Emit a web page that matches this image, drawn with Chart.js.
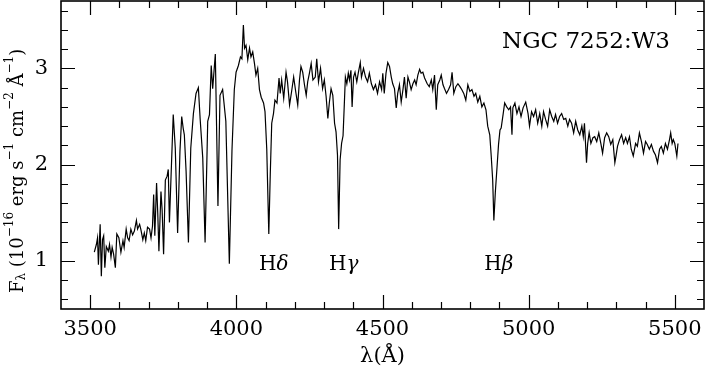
<!DOCTYPE html>
<html>
<head>
<meta charset="utf-8">
<script src="https://cdn.jsdelivr.net/npm/chart.js@4.4.1/dist/chart.umd.min.js"></script>
<style>
  html, body { margin: 0; padding: 0; background: #fff; }
  #wrap { width: 706px; height: 371px; }
</style>
</head>
<body>
<div id="wrap"><canvas id="spectrum"></canvas></div>
<script>
// spectrum: wavelength in Angstrom, flux in 1e-16 erg/s/cm2/A
const wavelength = [
  3514, 3521, 3525, 3528, 3534, 3538, 3542, 3546, 3550, 3555, 3562, 3566, 3571, 3575, 3580, 3586, 3591, 3598,
  3605, 3612, 3616, 3623, 3628, 3633, 3639, 3645, 3651, 3658, 3662, 3669, 3673, 3680, 3685, 3690, 3696,
  3703, 3708, 3713, 3717, 3721, 3727, 3731, 3735, 3742, 3746, 3751, 3757, 3763, 3767, 3771,
  3784, 3791, 3799, 3807, 3813, 3818, 3822, 3828, 3836, 3844, 3853, 3862, 3870, 3876, 3885, 3893,
  3902, 3908, 3914, 3919, 3928, 3937, 3944, 3953, 3964, 3976, 3985, 3993, 3999,
  4007, 4014, 4019, 4024, 4028, 4033, 4039, 4045, 4050, 4056, 4062, 4067, 4073, 4079, 4085, 4093, 4098,
  4104, 4111, 4116, 4121, 4127, 4132, 4139, 4146, 4150, 4155, 4162, 4170, 4175, 4182, 4189, 4196,
  4203, 4210, 4216, 4221, 4227, 4233, 4239, 4244, 4250, 4256, 4262, 4270, 4275, 4281, 4288, 4295,
  4301, 4307, 4313, 4318, 4324, 4330, 4336, 4341, 4346, 4350, 4355, 4360, 4365, 4369, 4373, 4378,
  4383, 4387, 4392, 4396, 4401, 4406, 4412, 4417, 4424, 4428, 4435, 4442, 4449, 4455, 4462, 4469,
  4476, 4483, 4490, 4497, 4501, 4506, 4512, 4518, 4524, 4530, 4535, 4541, 4547, 4552, 4558, 4564,
  4570, 4575, 4581, 4587, 4592, 4598, 4604, 4610, 4615, 4621, 4627, 4632, 4638, 4644, 4653, 4660,
  4667, 4672, 4678, 4684, 4689, 4696, 4701, 4707, 4712, 4719, 4726, 4733, 4738, 4744, 4751, 4758,
  4765, 4771, 4778, 4785, 4792, 4799, 4806, 4813, 4819, 4826, 4833, 4840, 4847, 4854, 4860, 4867,
  4872, 4877, 4881, 4886, 4892, 4897, 4902, 4906, 4913, 4918, 4925, 4932, 4938, 4943, 4946, 4953,
  4960, 4967, 4974, 4981, 4990, 4998, 5003, 5010, 5017, 5024, 5031, 5038, 5045, 5051, 5058, 5065,
  5072, 5079, 5086, 5092, 5099, 5106, 5113, 5120, 5127, 5134, 5140, 5147, 5154, 5161, 5168, 5175,
  5182, 5187, 5191, 5198, 5202, 5207, 5213, 5220, 5226, 5233, 5240, 5247, 5253, 5260, 5267, 5274,
  5281, 5288, 5295, 5299, 5304, 5311, 5318, 5325, 5332, 5338, 5345, 5351, 5358, 5366, 5372, 5379,
  5386, 5393, 5400, 5406, 5413, 5420, 5427, 5434, 5441, 5448, 5454, 5461, 5468, 5475, 5482, 5486,
  5491, 5495, 5500, 5507, 5511
];
const flux = [
  1.09, 1.17, 1.24, 0.96, 1.38, 0.84, 1.22, 1.26, 0.93, 1.15, 1.10, 1.17, 1.04, 1.14, 1.07, 0.93, 1.28, 1.24,
  1.09, 1.21, 1.14, 1.33, 1.24, 1.21, 1.33, 1.27, 1.31, 1.42, 1.33, 1.38, 1.33, 1.22, 1.29, 1.21, 1.35,
  1.33, 1.24, 1.36, 1.69, 1.26, 1.81, 1.50, 1.10, 1.72, 1.53, 1.07, 1.84, 1.88, 1.95, 1.40,
  2.52, 2.17, 1.29, 2.14, 2.50, 2.38, 2.31, 1.93, 1.19, 2.17, 2.53, 2.74, 2.80, 2.48, 2.07, 1.19,
  2.45, 2.52, 3.03, 2.79, 3.15, 1.57, 2.72, 2.78, 2.45, 0.97, 2.15, 2.78, 2.96,
  3.03, 3.12, 3.10, 3.45, 3.21, 3.24, 3.09, 3.21, 3.12, 3.17, 3.05, 2.93, 3.00, 2.78, 2.70, 2.64, 2.55,
  2.16, 1.28, 1.90, 2.43, 2.53, 2.67, 2.64, 2.90, 2.74, 2.88, 2.69, 2.96, 2.86, 2.62, 2.76, 2.91,
  2.76, 2.62, 2.88, 3.02, 2.96, 2.83, 2.72, 2.86, 2.95, 3.05, 2.88, 2.91, 3.10, 2.86, 3.00, 2.79,
  2.88, 2.71, 2.48, 2.64, 2.79, 2.72, 2.43, 2.34, 2.10, 1.33, 2.05, 2.22, 2.30, 2.60, 2.91, 2.84,
  2.95, 2.88, 2.98, 2.60, 2.91, 2.96, 2.86, 2.95, 3.06, 2.91, 3.00, 2.91, 2.86, 2.95, 2.84, 2.78,
  2.83, 2.74, 2.86, 2.78, 2.95, 2.74, 2.95, 3.06, 3.02, 2.91, 2.84, 2.79, 2.59, 2.74, 2.83, 2.65,
  2.78, 2.91, 2.69, 2.91, 2.86, 2.78, 2.84, 2.88, 2.83, 2.93, 2.99, 2.95, 2.96, 2.90, 2.84, 2.81,
  2.88, 2.78, 2.93, 2.57, 2.83, 2.88, 2.93, 2.83, 2.79, 2.74, 2.78, 2.83, 2.96, 2.74, 2.81, 2.84,
  2.81, 2.78, 2.74, 2.67, 2.83, 2.76, 2.78, 2.71, 2.74, 2.65, 2.71, 2.60, 2.64, 2.57, 2.40, 2.31,
  2.09, 1.84, 1.42, 1.71, 1.98, 2.21, 2.36, 2.38, 2.53, 2.64, 2.60, 2.57, 2.60, 2.31, 2.59, 2.64,
  2.53, 2.60, 2.50, 2.59, 2.65, 2.53, 2.40, 2.55, 2.50, 2.57, 2.43, 2.53, 2.40, 2.55, 2.47, 2.40,
  2.57, 2.50, 2.45, 2.52, 2.43, 2.50, 2.53, 2.47, 2.48, 2.40, 2.47, 2.43, 2.33, 2.45, 2.36, 2.31,
  2.40, 2.29, 2.43, 2.02, 2.22, 2.33, 2.22, 2.28, 2.29, 2.24, 2.33, 2.22, 2.12, 2.28, 2.33, 2.29,
  2.21, 2.26, 2.02, 2.09, 2.19, 2.26, 2.31, 2.22, 2.28, 2.22, 2.29, 2.16, 2.09, 2.22, 2.19, 2.33,
  2.24, 2.12, 2.24, 2.21, 2.16, 2.21, 2.14, 2.10, 2.02, 2.16, 2.19, 2.12, 2.22, 2.16, 2.26, 2.33,
  2.22, 2.26, 2.22, 2.09, 2.22
];

const xMajor = [3500, 4000, 4500, 5000, 5500];
const yMajor = [1, 2, 3];
const lineNames = ["δ", "γ", "β"];
const lineWave = [4111, 4350, 4881];

const serif = "'DejaVu Serif', serif";

function drawYTitle(ctx) {
  // [text, 0 normal / 1 subscript / 2 superscript]
  const parts = [
    ["F", 0], ["λ", 1], [" (10", 0], ["−16", 2], [" erg s", 0], ["−1", 2],
    [" cm", 0], ["−2", 2], [" Å", 0], ["−1", 2], [")", 0]
  ];
  ctx.save();
  ctx.translate(18, 293);
  ctx.rotate(-Math.PI / 2);
  ctx.fillStyle = "#000";
  let pos = 0;
  parts.forEach(([txt, kind]) => {
    ctx.font = (kind ? "12px " : "18px ") + serif;
    const dy = kind === 1 ? 4 : kind === 2 ? -8 : 0;
    ctx.fillText(txt, pos, dy);
    pos += ctx.measureText(txt).width;
  });
  ctx.restore();
}

const frame = {
  id: "frame",
  afterDraw(chart) {
    const { ctx, chartArea: a, scales: { x, y } } = chart;
    ctx.save();
    ctx.strokeStyle = "#000";
    ctx.lineWidth = 1.2;
    ctx.beginPath();
    x.ticks.forEach(t => {
      const px = Math.round(x.getPixelForValue(t.value)) + 0.5;
      const len = xMajor.includes(t.value) ? 14 : 7;
      ctx.moveTo(px, a.bottom); ctx.lineTo(px, a.bottom - len);
      ctx.moveTo(px, a.top); ctx.lineTo(px, a.top + len);
    });
    y.ticks.forEach(t => {
      const py = Math.round(y.getPixelForValue(t.value)) + 0.5;
      const len = yMajor.includes(t.value) ? 14 : 7;
      ctx.moveTo(a.left, py); ctx.lineTo(a.left + len, py);
      ctx.moveTo(a.right, py); ctx.lineTo(a.right - len, py);
    });
    ctx.stroke();
    ctx.lineWidth = 1.6;
    ctx.strokeRect(a.left, a.top, a.right - a.left, a.bottom - a.top);

    ctx.fillStyle = "#000";
    ctx.textBaseline = "middle";
    ctx.textAlign = "center";
    ctx.font = "23px " + serif;
    ctx.fillText("NGC 7252:W3", 586, 42);

    ctx.textAlign = "left";
    lineNames.forEach((g, i) => {
      const cx = x.getPixelForValue(lineWave[i]) + 5;
      const cy = 265;
      ctx.font = "20px " + serif;
      const wH = ctx.measureText("H").width;
      ctx.font = "italic 20px " + serif;
      const wG = ctx.measureText(g).width;
      const left = cx - (wH + wG) / 2;
      ctx.font = "20px " + serif;
      ctx.fillText("H", left, cy);
      ctx.font = "italic 20px " + serif;
      ctx.fillText(g, left + wH, cy);
    });

    drawYTitle(ctx);
    ctx.restore();
  }
};

const points = wavelength.map((w, i) => ({ x: w, y: flux[i] }));

new Chart(document.getElementById("spectrum").getContext("2d"), {
  type: "line",
  data: {
    datasets: [{
      data: points,
      borderColor: "#000",
      borderWidth: 1.2,
      pointRadius: 0,
      tension: 0,
      fill: false,
    }],
  },
  options: {
    responsive: true,
    maintainAspectRatio: false,
    animation: false,
    events: [],
    layout: { padding: { top: 1, right: 2, left: 0, bottom: 0 } },
    plugins: { legend: { display: false }, tooltip: { enabled: false } },
    scales: {
      x: {
        type: "linear",
        min: 3400,
        max: 5600,
        afterBuildTicks: s => {
          const t = [];
          for (let v = 3500; v <= 5500; v += 100) t.push({ value: v });
          s.ticks = t;
        },
        afterFit: s => {
          s.height = 62;
          s.paddingLeft = 0; s.paddingRight = 0; s.paddingTop = 0; s.paddingBottom = 0;
        },
        grid: { display: false, drawTicks: false },
        border: { display: false },
        ticks: {
          autoSkip: false,
          maxRotation: 0,
          padding: 8,
          color: "#000",
          font: { family: serif, size: 21 },
          callback: v => xMajor.includes(v) ? String(v) : "",
        },
        title: {
          display: true,
          text: "λ(Å)",
          color: "#000",
          font: { family: serif, size: 21 },
          padding: { top: 0, bottom: 2 },
        },
      },
      y: {
        min: 0.5,
        max: 3.7,
        afterBuildTicks: s => {
          const t = [];
          for (let k = 3; k <= 18; k++) t.push({ value: Math.round(k * 2) / 10 });
          s.ticks = t;
        },
        afterFit: s => {
          s.width = 61;
          s.paddingLeft = 0; s.paddingRight = 0; s.paddingTop = 0; s.paddingBottom = 0;
        },
        grid: { display: false, drawTicks: false },
        border: { display: false },
        ticks: {
          autoSkip: false,
          padding: 13,
          color: "#000",
          font: { family: serif, size: 21 },
          callback: v => yMajor.includes(v) ? String(v) : "",
        },
      },
    },
  },
  plugins: [frame],
});
</script>
</body>
</html>
